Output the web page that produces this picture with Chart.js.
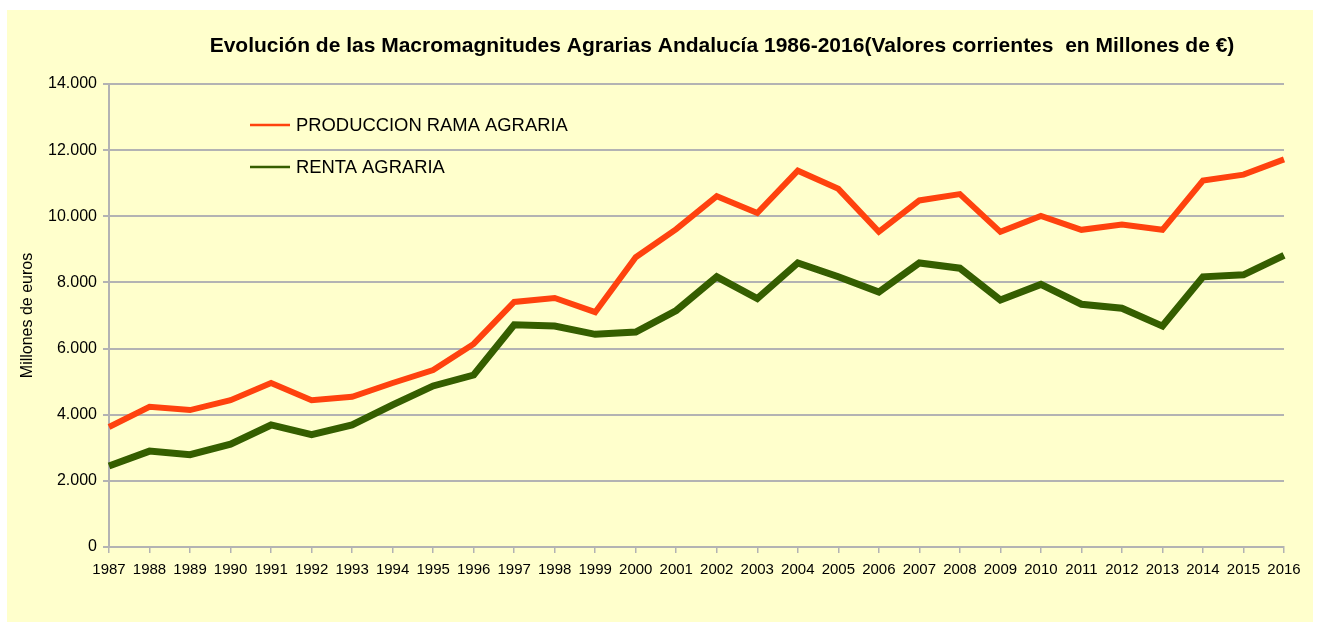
<!DOCTYPE html>
<html>
<head>
<meta charset="utf-8">
<script src="https://cdn.jsdelivr.net/npm/chart.js@4.4.1/dist/chart.umd.min.js"></script>
<style>
  body { margin: 0; background: #ffffff; }
  #box { position: absolute; left: 7px; top: 10px; width: 1306px; height: 612px; background: #ffffcc; }
</style>
</head>
<body>
<div id="box"><canvas id="chart" width="1306" height="612"></canvas></div>
<script>
// years on the x axis
var years = ['1987','1988','1989','1990','1991','1992','1993','1994','1995','1996',
  '1997','1998','1999','2000','2001','2002','2003','2004','2005','2006',
  '2007','2008','2009','2010','2011','2012','2013','2014','2015','2016'];

// produccion rama agraria (millones de euros)
var produccion = [3630, 4240, 4140, 4440, 4960, 4440, 4540, 4960, 5350, 6140,
  7410, 7530, 7100, 8760, 9610, 10610, 10100, 11380, 10830, 9530,
  10480, 10670, 9530, 10010, 9590, 9750, 9590, 11080, 11260, 11720];

// renta agraria (millones de euros)
var renta = [2450, 2900, 2790, 3110, 3690, 3400, 3690, 4300, 4870, 5200,
  6720, 6680, 6430, 6500, 7150, 8170, 7510, 8590, 8170, 7710,
  8590, 8430, 7470, 7940, 7340, 7220, 6680, 8170, 8230, 8820];

var titulo = 'Evolución de las Macromagnitudes Agrarias Andalucía 1986-2016(Valores corrientes  en Millones de €)';

//title and legend drawn inside the chart like the original
var overlay = {
  id: 'overlay',
  afterDraw: function (chart) {
    var ctx = chart.ctx;
    ctx.save();
    ctx.fillStyle = '#000000';
    ctx.font = 'bold 21px "Liberation Sans", Arial, sans-serif';
    ctx.textAlign = 'center';
    ctx.textBaseline = 'middle';
    ctx.fillText(titulo, 715, 36);

    ctx.font = '18.4px "Liberation Sans", Arial, sans-serif';
    ctx.textAlign = 'left';
    chart.data.datasets.forEach(function (ds, i) {
      var y = 115 + i * 42;
      ctx.strokeStyle = ds.borderColor;
      ctx.lineWidth = 2.5;
      ctx.beginPath();
      ctx.moveTo(243, y);
      ctx.lineTo(283, y);
      ctx.stroke();
      ctx.fillText(ds.label, 289, y + 1);
    });
    ctx.restore();
  }
};

var config = {
  type: 'line',
  data: {
    labels: years,
    datasets: [{
        label: 'PRODUCCION RAMA AGRARIA',
        data: produccion,
        borderColor: '#ff420e',
        backgroundColor: '#ff420e',
        borderWidth: 6,
        borderJoinStyle: 'miter',
        pointRadius: 0,
        tension: 0
      },
      {
        label: 'RENTA AGRARIA',
        data: renta,
        borderColor: '#355e00',
        backgroundColor: '#355e00',
        borderWidth: 7,
        borderJoinStyle: 'miter',
        pointRadius: 0,
        tension: 0
      }
    ]
  },
  options: {
    responsive: false,
    animation: false,
    layout: {
      padding: { left: 0, right: 29, top: 74, bottom: 0 }
    },
    plugins: {
      legend: { display: false },
      title: { display: false },
      tooltip: { enabled: false }
    },
    scales: {
      x: {
        offset: false,
        afterFit: function (scale) { scale.height = 75; },
        grid: {
          drawOnChartArea: false,
          color: '#b3b3b3',
          tickLength: 6,
          lineWidth: 1.5
        },
        border: { color: '#b3b3b3', width: 2 },
        ticks: {
          autoSkip: false,
          maxRotation: 0,
          minRotation: 0,
          padding: 8,
          color: '#000000',
          font: { family: '"Liberation Sans", Arial, sans-serif', size: 15 }
        }
      },
      y: {
        min: 0,
        max: 14000,
        afterFit: function (scale) { scale.width = 102; },
        grid: {
          color: '#b3b3b3',
          lineWidth: 2,
          tickLength: 6
        },
        border: { color: '#b3b3b3', width: 2 },
        ticks: {
          stepSize: 2000,
          padding: 6,
          color: '#000000',
          font: { family: '"Liberation Sans", Arial, sans-serif', size: 16 },
          callback: function (v) {
            return v.toString().replace(/\B(?=(\d{3})+(?!\d))/g, '.');
          }
        },
        title: {
          display: true,
          text: 'Millones de euros',
          color: '#000000',
          padding: { top: 11, bottom: 4 },
          font: { family: '"Liberation Sans", Arial, sans-serif', size: 16 }
        }
      }
    }
  },
  plugins: [overlay]
};

var chart = new Chart(document.getElementById('chart'), config);
</script>
</body>
</html>
